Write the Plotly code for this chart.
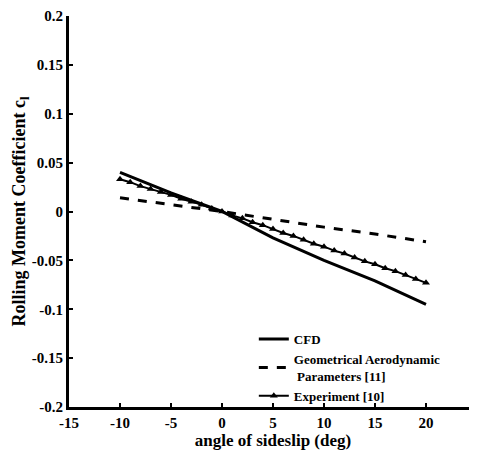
import plotly.graph_objects as go

# Data
cfd_x = [-10, -5, 0, 5, 10, 15, 20]
cfd_y = [0.040, 0.019, 0.0, -0.027, -0.050, -0.071, -0.095]

geo_x = [-10, -5, 0, 5, 10, 15, 20]
geo_y = [0.014, 0.007, 0.0, -0.008, -0.016, -0.023, -0.031]

exp_x = list(range(-10, 21))
exp_y = [0.033, 0.030, 0.026, 0.023, 0.020, 0.017, 0.013, 0.010, 0.007, 0.003,
         0.000, -0.004, -0.007, -0.011, -0.014, -0.018, -0.022, -0.025, -0.029,
         -0.033, -0.036, -0.040, -0.043, -0.047, -0.051, -0.054, -0.058, -0.061,
         -0.065, -0.069, -0.073]

x_ticks = [-15, -10, -5, 0, 5, 10, 15, 20, 25]
x_ticktext = ["-15", "-10", "-5", "0", "5", "10", "15", "20", "25"]
y_ticks = [0.2, 0.15, 0.1, 0.05, 0, -0.05, -0.1, -0.15, -0.2]
y_ticktext = ["0.2", "0.15", "0.1", "0.05", "0", "-0.05", "-0.1", "-0.15", "-0.2"]

FONT = "Liberation Serif"

fig = go.Figure()
fig.add_trace(go.Scatter(x=cfd_x, y=cfd_y, mode="lines", name="<b>CFD</b>",
                         line=dict(color="black", width=3)))
fig.add_trace(go.Scatter(x=geo_x, y=geo_y, mode="lines",
                         name="<b>Geometrical Aerodynamic<br>&nbsp;Parameters [11]</b>",
                         line=dict(color="black", width=3, dash="dash")))
fig.add_trace(go.Scatter(x=exp_x, y=exp_y, mode="lines+markers", name="<b>Experiment [10]</b>",
                         line=dict(color="black", width=2),
                         marker=dict(symbol="triangle-up", size=7, color="black")))

fig.update_layout(
    width=477, height=451,
    margin=dict(l=61, r=8, t=8, b=52),
    paper_bgcolor="white", plot_bgcolor="white",
    font=dict(family=FONT, color="black", size=14),
    showlegend=True,
    legend=dict(x=0.453, y=0.212, xanchor="left", yanchor="top",
                bgcolor="rgba(0,0,0,0)", font=dict(family=FONT, size=13, color="black"),
                tracegroupgap=0, itemwidth=30),
    xaxis=dict(range=[-15, 25], tickvals=x_ticks, ticktext=["<b>%s</b>" % t for t in x_ticktext],
               automargin=False,
               showgrid=False, zeroline=False, showline=True, linecolor="black", linewidth=3,
               ticks="inside", ticklen=4, tickwidth=2, tickcolor="black",
               tickfont=dict(family=FONT, size=15, color="black"),
               title=dict(text="<b>angle of sideslip (deg)</b>", font=dict(family=FONT, size=17),
                          standoff=0)),
    yaxis=dict(range=[-0.2, 0.2], tickvals=y_ticks, ticktext=["<b>%s</b>" % t for t in y_ticktext],
               automargin=False,
               showgrid=False, zeroline=False, showline=True, linecolor="black", linewidth=3,
               ticks="inside", ticklen=4, tickwidth=2, tickcolor="black",
               tickfont=dict(family=FONT, size=15, color="black"),
               title=dict(text="<b>Rolling Moment Coefficient c<sub>l</sub></b>",
                          font=dict(family=FONT, size=18), standoff=1)),
)

fig.write_html("out.html")
